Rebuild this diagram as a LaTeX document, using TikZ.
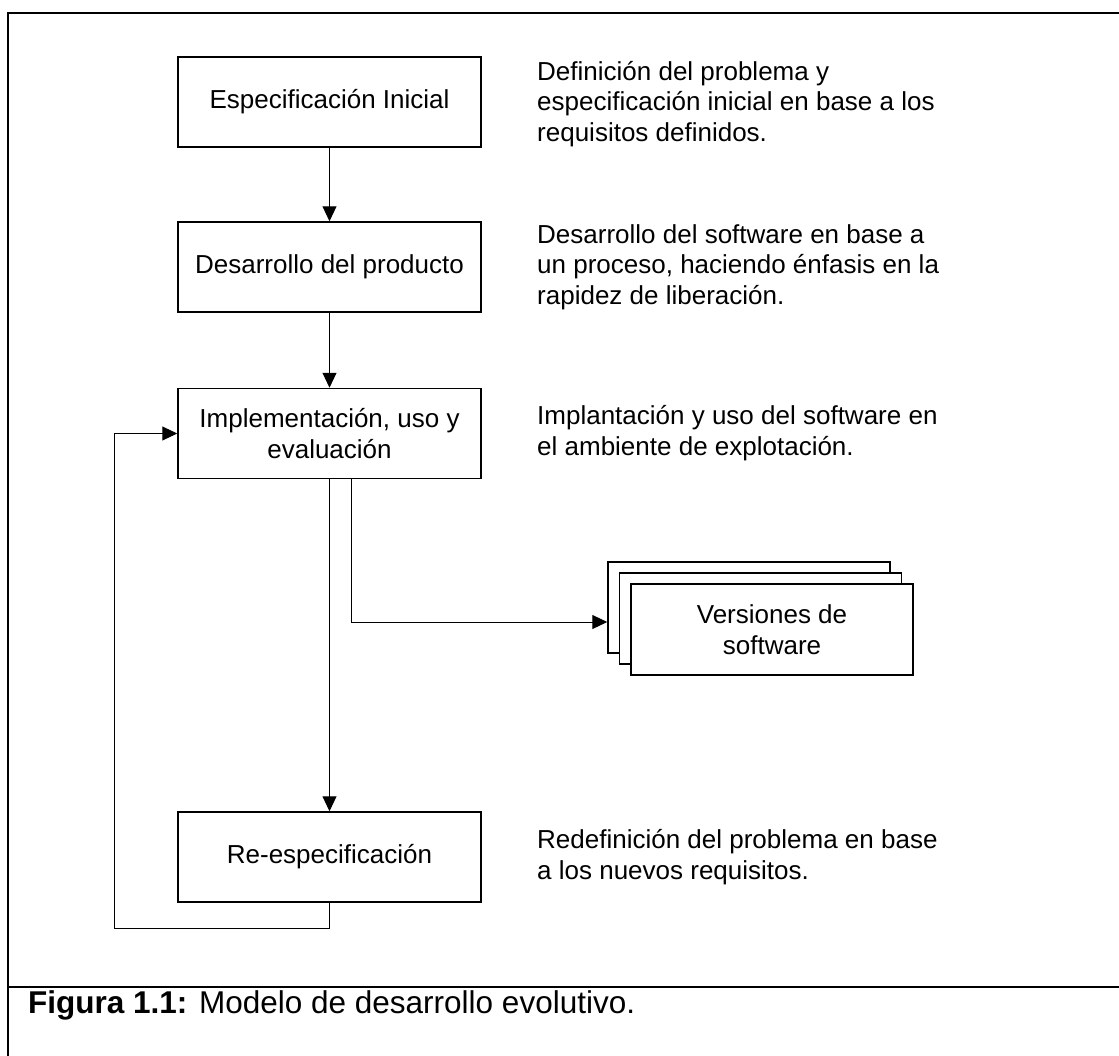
\documentclass[tikz,border=0pt]{standalone}
\usepackage{fontspec}
\setmainfont{Liberation Sans}
\usetikzlibrary{arrows.meta,positioning}

\begin{document}
\begin{tikzpicture}[
    x=1pt, y=-1pt,
    stage/.style={rectangle, draw, line width=1.5pt, fill=white, minimum width=303pt, minimum height=90pt, align=center, inner sep=0pt, font=\fontsize{26}{30.4}\selectfont},
    version/.style={stage, minimum width=282pt, minimum height=91pt},
    note/.style={anchor=west, align=left, inner sep=0pt, font=\fontsize{26}{30.4}\selectfont},
    caption/.style={anchor=base west, inner sep=0pt, font=\fontsize{31.5}{36}\selectfont},
    arrow/.style={-{Triangle[length=15pt,width=14pt]}, line width=1pt},
    frame/.style={line width=2pt}
]
\useasboundingbox (0,0) rectangle (1119,1055);

% Frame and caption
\draw[frame] (8,1070) -- (8,13) -- (1130,13);
\draw[frame] (8,987) -- (1130,987);
\node[caption] (caption) at (28,1013) {\textbf{Figura 1.1:} Modelo de desarrollo evolutivo.};

% Stages
\node[stage] (spec_inicial) at (329.5,102) {Especificación Inicial};
\node[stage] (desarrollo) at (329.5,267) {Desarrollo del producto};
\node[stage] (implementacion) at (329.5,433.5) {Implementación, uso y\\evaluación};
\node[stage] (reespec) at (329.5,857) {Re-especificación};

% Software versions
\node[version] (versiones_back) at (749,607.5) {};
\node[version] (versiones_mid) at (760.5,618.5) {};
\node[version] (versiones) at (772,629.5) {Versiones de\\software};

% Notes
\node[note] (note_spec) at (537,104) {Definición del problema y\\especificación inicial en base a los\\requisitos definidos.};
\node[note] (note_desarrollo) at (537,267) {Desarrollo del software en base a\\un proceso, haciendo énfasis en la\\rapidez de liberación.};
\node[note] (note_impl) at (537,433) {Implantación y uso del software en\\el ambiente de explotación.};
\node[note] (note_reespec) at (537,857) {Redefinición del problema en base\\a los nuevos requisitos.};

% Connections
\draw[arrow] (spec_inicial) -- (desarrollo);
\draw[arrow] (desarrollo) -- (implementacion);
\draw[arrow] (implementacion) -- (reespec);
\draw[arrow] ([xshift=22pt]implementacion.south) |- ([yshift=-14.5pt]versiones_back.west);

% Feedback loop
\coordinate (fb_corner) at (114,928);
\draw[arrow] (reespec.south) |- (fb_corner) |- (implementacion.west);

\end{tikzpicture}
\end{document}
